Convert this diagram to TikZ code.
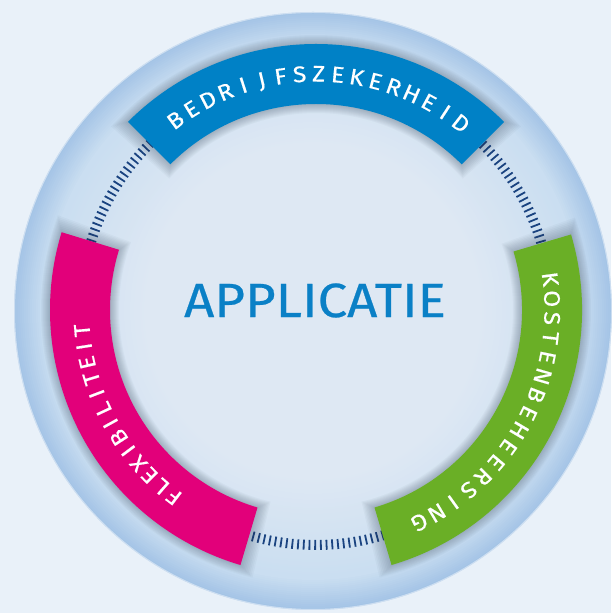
\documentclass[tikz,border=0pt]{standalone}
\usepackage{fontspec}
\setmainfont{Fira Sans}
\newfontfamily\dinlike{Fira Sans}[FakeStretch=1.1, FakeBold=0.5]
\definecolor{bg}{HTML}{E9F1F9}
\definecolor{bandblue}{HTML}{0081C6}
\definecolor{bandgreen}{HTML}{6AAF26}
\definecolor{bandmag}{HTML}{E2007A}
\definecolor{tickcol}{HTML}{1A4380}
\definecolor{ringedge}{HTML}{A4C4E6}
\definecolor{ringmid}{HTML}{CADEF1}
\definecolor{innercol}{HTML}{DEE8F3}
\definecolor{shadowcol}{HTML}{2A3A50}
\definecolor{titleblue}{HTML}{0A80C6}
\newcommand\bandfont{\dinlike\fontsize{22.5}{22.5}\selectfont}
\newlength\chw
\newcommand\sectorpath[4]{([shift={(#1:#4)}]C) arc[start angle=#1, end angle=#2, radius=#4] -- ([shift={(#2:#3)}]C) arc[start angle=#2, end angle=#1, radius=#3] -- cycle}
\newcommand\bandshadow[2]{%
  \foreach \k in {1,...,9}{%
    \pgfmathsetmacro\aa{#1-\k*0.35}\pgfmathsetmacro\bb{#2+\k*0.35}%
    \pgfmathsetmacro\ri{206-\k}\pgfmathsetmacro\ro{266+\k}%
    \fill[shadowcol, opacity=0.035, shift={(1,-4)}] \sectorpath{\aa}{\bb}{\ri}{\ro};
  }}
% #1 id, #2 letters, #3 start angle, #4 end angle, #5 baseline radius
\newcommand\arcword[5]{%
  \gdef\sumw{0}\gdef\nch{0}%
  \foreach \ch in {#2}{\settowidth{\chw}{\bandfont\ch}\pgfmathsetmacro\tmp{\sumw+\chw}\xdef\sumw{\tmp}\pgfmathtruncatemacro\tmpn{\nch+1}\xdef\nch{\tmpn}}%
  \pgfmathsetmacro\arclen{abs(#3-(#4))*pi/180*#5}%
  \pgfmathsetmacro\trk{(\arclen-\sumw)/(\nch-1)}%
  \gdef\cur{0}%
  \foreach \ch [count=\i] in {#2}{%
    \settowidth{\chw}{\bandfont\ch}%
    \pgfmathsetmacro\ang{#3 + sign(#4-(#3))*(\cur+\chw/2)/#5*180/pi}%
    \node[lettr, rotate=\ang-90, anchor=base] (#1\i) at ([shift={(\ang:#5)}]C) {\ch};
    \pgfmathsetmacro\tmp{\cur+\chw+\trk}\xdef\cur{\tmp}%
  }}
\tikzset{
  band/.style={fill=#1},
  lettr/.style={text=white, font=\bandfont, inner sep=0pt},
  ticks/.style={draw=tickcol, line width=10pt, dash pattern=on 1.8pt off 3.9pt}
}
\begin{document}
\begin{tikzpicture}[x=1pt,y=1pt]
\useasboundingbox (0,0) rectangle (611,613);
\fill[bg] (0,0) rectangle (611,613);
\coordinate (O) at (313,302);
\coordinate (C) at (316,303);
% outer disc with radial gradient
\foreach \r in {299,297,...,269}{%
  \pgfmathsetmacro\t{(299-\r)/30*100}%
  \fill[ringmid!\t!ringedge] (O) circle (\r);
}
\foreach \r in {267,265,...,167}{%
  \pgfmathsetmacro\t{267-\r}%
  \fill[innercol!\t!ringmid] (O) circle (\r);
}
\draw[white, opacity=0.45, line width=1pt] (O) circle (298.5);
% tick ring
\path[ticks] (C) circle (235);
% shadows
\bandshadow{45}{135}
\bandshadow{163}{253.5}
\bandshadow{-73.5}{16.5}
% bands
\fill[band=bandblue] \sectorpath{45}{135}{206}{266};
\fill[band=bandmag] \sectorpath{163}{253.5}{206}{266};
\fill[band=bandgreen] \sectorpath{-73.5}{16.5}{206}{266};
% band texts
\arcword{b}{B,E,D,R,I,J,F,S,Z,E,K,E,R,H,E,I,D}{126.5}{52.2}{228.5}
\arcword{g}{K,O,S,T,E,N,B,E,H,E,E,R,S,I,N,G}{7.5}{-64}{228.5}
\arcword{m}{F,L,E,X,I,B,I,L,I,T,E,I,T}{232.8}{185}{227}
% centre title
\node[text=titleblue, font=\dinlike\fontsize{48}{48}\selectfont, inner sep=0pt] (title) at (315,312.5) {APPLICATIE};
\end{tikzpicture}
\end{document}
